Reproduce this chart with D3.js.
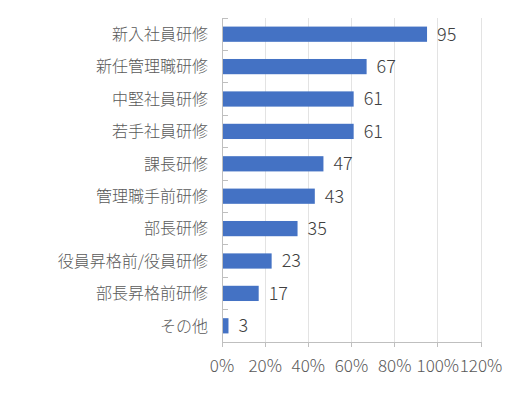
<!DOCTYPE html>
<html><head><meta charset="utf-8">
<script src="https://cdn.jsdelivr.net/npm/d3@7"></script>
<style>
html,body{margin:0;padding:0;background:#fff;}
text{font-family:"Noto Sans CJK JP","Noto Sans",sans-serif;}
</style></head>
<body><svg id="c" width="528" height="399"></svg>
<script>
const categories = ["新入社員研修","新任管理職研修","中堅社員研修","若手社員研修","課長研修","管理職手前研修","部長研修","役員昇格前/役員研修","部長昇格前研修","その他"];
const values = [95,67,61,61,47,43,35,23,17,3];
const tickValues = [0,20,40,60,80,100,120];
const tickLabels = ["0%","20%","40%","60%","80%","100%","120%"];

(function(){
const svg = d3.select("#c");
const mL = 222, mR = 481, mT = 18, mB = 342;
const x = d3.scaleLinear().domain([0,120]).range([mL,mR]);
const y = d3.scaleBand().domain(categories).range([mT,mB]).paddingInner(0.53).paddingOuter(0.265);
const yb = d3.scaleBand().domain(categories).range([mT,mB]);

// gridlines
svg.append("g").selectAll("line").data(tickValues.slice(1)).join("line")
  .attr("x1",d=>x(d)).attr("x2",d=>x(d)).attr("y1",mT).attr("y2",mB)
  .attr("stroke","#e3e3e3").attr("stroke-width",1).attr("shape-rendering","crispEdges");

// bars
svg.append("g").selectAll("rect").data(values).join("rect")
  .attr("x",x(0)).attr("y",(d,i)=>y(categories[i]))
  .attr("width",d=>x(d)-x(0)).attr("height",y.bandwidth())
  .attr("fill","#4472C4");

// value labels
svg.append("g").selectAll("text").data(values).join("text")
  .attr("x",d=>x(d)+10).attr("y",(d,i)=>y(categories[i])+y.bandwidth()/2)
  .attr("dy","0.36em").attr("font-size",18).attr("font-weight",300).attr("fill","#404040").text(d=>d);

// y axis
const ya = svg.append("g").attr("transform",`translate(${mL},0)`);
ya.append("line").attr("x1",0).attr("x2",0).attr("y1",mT).attr("y2",mB).attr("stroke","#bfbfbf").attr("shape-rendering","crispEdges");
ya.selectAll("line.t").data(categories).join("line").attr("class","t")
  .attr("x1",0).attr("x2",6).attr("y1",d=>yb(d)).attr("y2",d=>yb(d))
  .attr("stroke","#bfbfbf").attr("shape-rendering","crispEdges");
ya.selectAll("text").data(categories).join("text")
  .attr("x",-14).attr("y",d=>yb(d)+yb.bandwidth()/2).attr("dy","0.36em")
  .attr("text-anchor","end").attr("font-size",16).attr("font-weight",300).attr("fill","#595959").text(d=>d);

// x axis
const xa = svg.append("g");
xa.append("line").attr("x1",mL).attr("x2",mR).attr("y1",mB).attr("y2",mB).attr("stroke","#bfbfbf").attr("shape-rendering","crispEdges");
xa.selectAll("line.t").data(tickValues).join("line").attr("class","t")
  .attr("x1",d=>x(d)).attr("x2",d=>x(d)).attr("y1",mB).attr("y2",mB+5)
  .attr("stroke","#bfbfbf").attr("shape-rendering","crispEdges");
xa.selectAll("text").data(tickValues).join("text")
  .attr("x",d=>x(d)).attr("y",372).attr("text-anchor","middle")
  .attr("font-size",17).attr("font-weight",300).attr("fill","#595959").text((d,i)=>tickLabels[i]);
})();
</script></body></html>
